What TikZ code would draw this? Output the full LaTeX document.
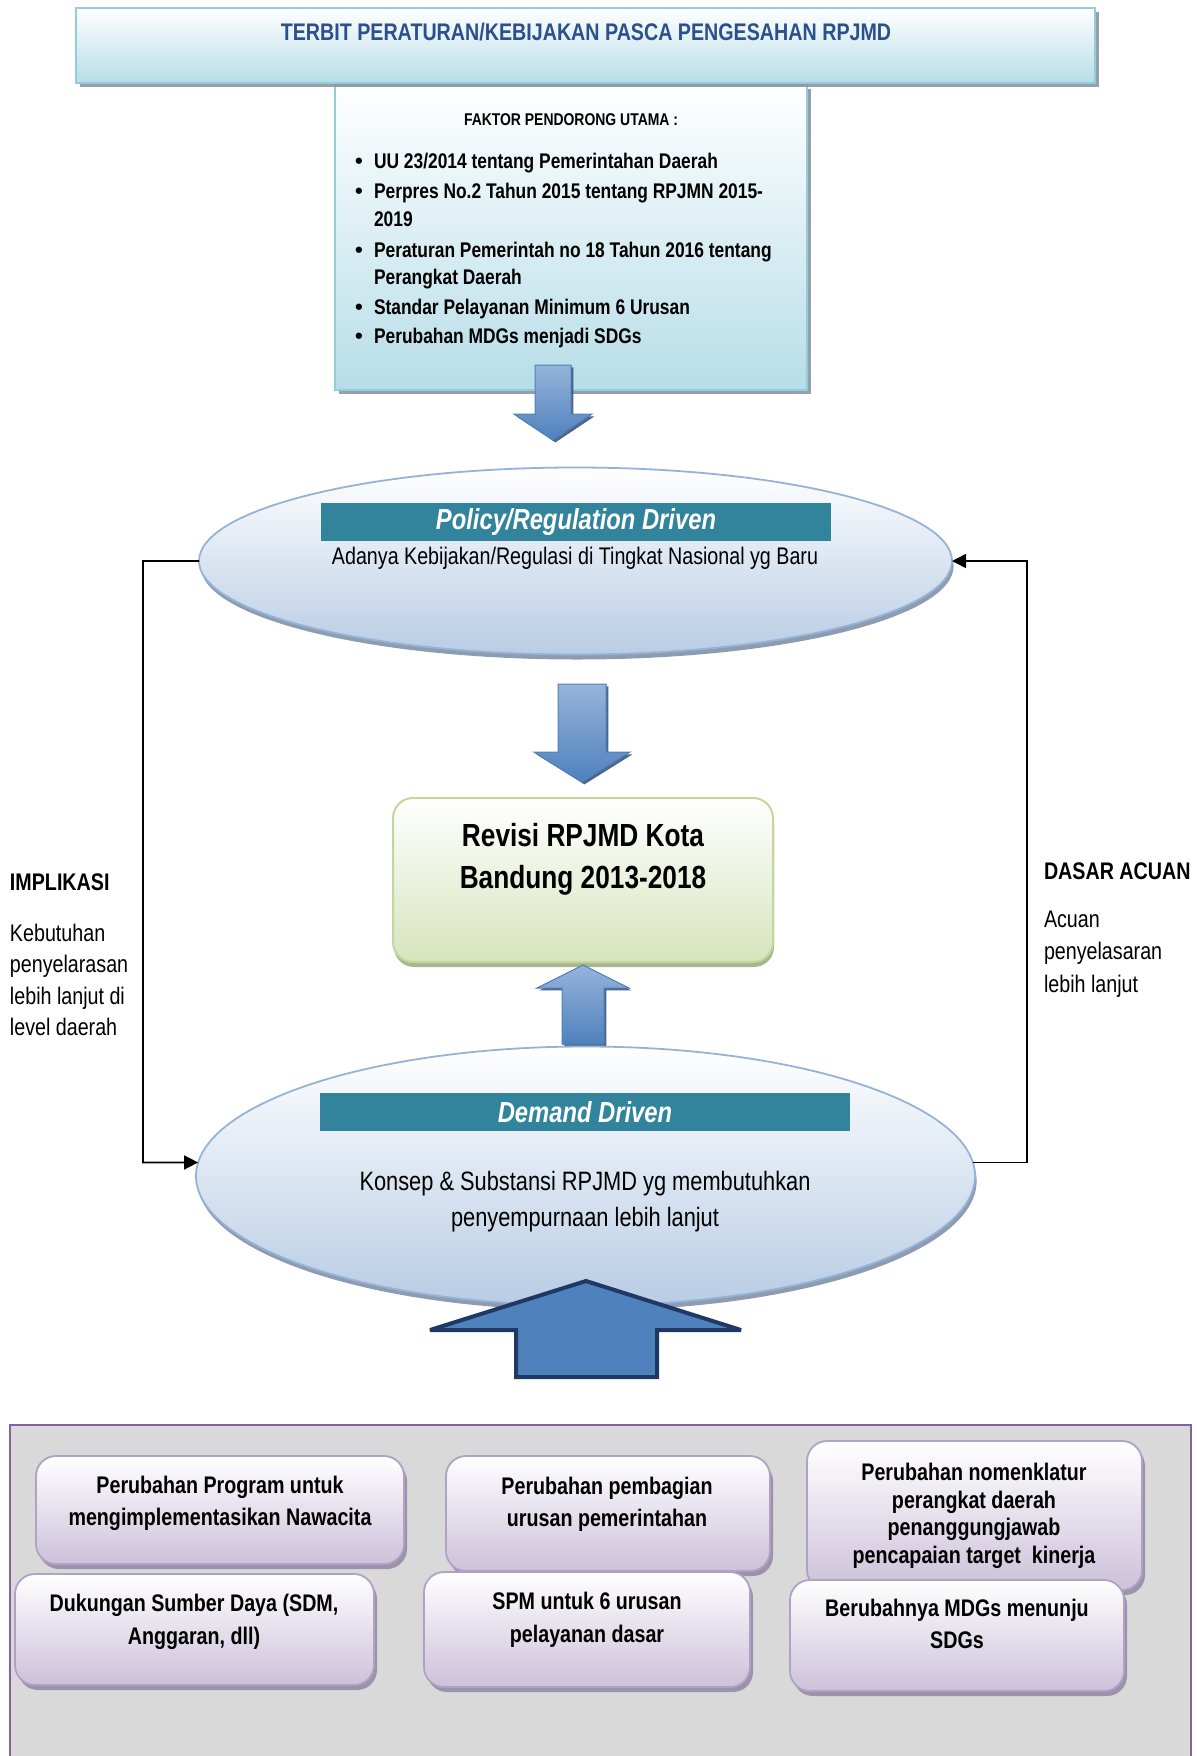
\documentclass[tikz,border=0pt]{standalone}
\usepackage{fontspec}
\setmainfont[FakeStretch=0.82]{Liberation Sans}
\newfontfamily\bulletfont{Liberation Sans}
\usetikzlibrary{shadows,shapes.geometric,arrows.meta}
\definecolor{titleblue}{RGB}{44,80,140}
\definecolor{aquaedge}{RGB}{146,205,220}
\definecolor{aquafill}{RGB}{183,221,232}
\definecolor{shadowgray}{RGB}{140,150,160}
\definecolor{elledge}{RGB}{149,179,215}
\definecolor{ellfill}{RGB}{184,204,228}
\definecolor{ellshadow}{RGB}{130,145,170}
\definecolor{bannerteal}{RGB}{49,132,155}
\definecolor{grnedge}{RGB}{195,214,155}
\definecolor{grnfill}{RGB}{215,228,189}
\definecolor{grnshadow}{RGB}{160,175,130}
\definecolor{arrlight}{RGB}{150,180,218}
\definecolor{arrmid}{RGB}{79,129,189}
\definecolor{arrdark}{RGB}{36,64,110}
\definecolor{bignavy}{RGB}{31,56,100}
\definecolor{panelgray}{RGB}{217,217,217}
\definecolor{paneledge}{RGB}{128,100,162}
\definecolor{lavfill}{RGB}{204,193,218}
\definecolor{lavedge}{RGB}{178,161,199}
\definecolor{lavshadow}{RGB}{150,140,165}
\begin{document}
\begin{tikzpicture}[x=0.5pt,y=-0.5pt,
  every node/.style={inner sep=0pt, outer sep=0pt},
  aquabox/.style={draw=aquaedge, line width=1pt, top color=white, bottom color=aquafill,
    drop shadow={shadow xshift=2pt, shadow yshift=-2pt, fill=shadowgray, opacity=0.9}},
  ell/.style={ellipse, draw=elledge, line width=0.9pt, top color=white, bottom color=ellfill,
    drop shadow={shadow xshift=0.8pt, shadow yshift=-2.5pt, fill=ellshadow, opacity=0.9}},
  banner/.style={fill=bannerteal, text=white, font=\fontsize{14.5}{17}\selectfont\bfseries\itshape},
  lavbox/.style={rounded corners=10pt, draw=lavedge, line width=0.9pt, top color=white, bottom color=lavfill,
    drop shadow={shadow xshift=1.5pt, shadow yshift=-2.5pt, fill=lavshadow, opacity=0.9}},
  boxtext/.style={align=center, font=\fontsize{12}{16}\selectfont\bfseries},
  side/.style={align=left, anchor=west, font=\fontsize{12}{15.8}\selectfont},
  conn/.style={line width=0.8pt, black, -{Triangle[length=7pt,width=7pt]}},
  blockarrow/.style={draw=arrmid, line width=0.5pt, top color=arrlight, bottom color=arrmid,
    drop shadow={shadow xshift=1.2pt, shadow yshift=-1.2pt, fill=arrdark, opacity=0.8}},
  bul/.style={anchor=base west, font=\fontsize{11}{12}\bulletfont\bfseries},
  bt/.style={anchor=base west, font=\fontsize{10.6}{12}\selectfont\bfseries},
]
\useasboundingbox (0,0) rectangle (1197,1756);

% Faktor box and title box
\node[aquabox, minimum width=236pt, minimum height=152.5pt] (faktor) at (571,237.5) {};
\node[aquabox, minimum width=509.5pt, minimum height=37.5pt] (title) at (585.5,45.5) {};
\node[anchor=base, text=titleblue, font=\fontsize{12}{14}\selectfont\bfseries] (titletext) at (586,40.6)
  {TERBIT PERATURAN/KEBIJAKAN PASCA PENGESAHAN RPJMD};

\node[anchor=base, font=\fontsize{8.5}{10}\selectfont\bfseries] (faktortitle) at (571,125) {FAKTOR PENDORONG UTAMA :};
\node[bul] (b1) at (355,168.6) {\textbullet};
\node[bt] (t1) at (374,168.6) {UU 23/2014 tentang Pemerintahan Daerah};
\node[bul] (b2) at (355,198.6) {\textbullet};
\node[bt] (t2) at (374,198.6) {Perpres No.2 Tahun 2015 tentang RPJMN 2015-};
\node[bt] (t2b) at (374,226.6) {2019};
\node[bul] (b3) at (355,257.6) {\textbullet};
\node[bt] (t3) at (374,257.6) {Peraturan Pemerintah no 18 Tahun 2016 tentang};
\node[bt] (t3b) at (374,284.6) {Perangkat Daerah};
\node[bul] (b4) at (355,314.6) {\textbullet};
\node[bt] (t4) at (374,314.6) {Standar Pelayanan Minimum 6 Urusan};
\node[bul] (b5) at (355,343.6) {\textbullet};
\node[bt] (t5) at (374,343.6) {Perubahan MDGs menjadi SDGs};

% arrow 1 (down)
\fill[blockarrow] (535,365) -- (571,365) -- (571,414) -- (592,414) -- (553,440) -- (514,414) -- (535,414) -- cycle;

% top ellipse
\node[ell, minimum width=376.5pt, minimum height=93.5pt] (pe) at (575.5,561) {};
\node[banner, minimum width=255pt, minimum height=19pt] (pb) at (576,522) {Policy/Regulation Driven};
\node[anchor=base, font=\fontsize{12}{14}\selectfont] (ps) at (575,564.6)
  {Adanya Kebijakan/Regulasi di Tingkat Nasional yg Baru};

% arrow 2 (down)
\fill[blockarrow] (558,684) -- (606,684) -- (606,752) -- (630,752) -- (582,782) -- (534,752) -- (558,752) -- cycle;

% center box
\node[draw=grnedge, line width=1pt, rounded corners=10pt, top color=white, bottom color=grnfill,
  drop shadow={shadow xshift=0.5pt, shadow yshift=-2.5pt, fill=grnshadow, opacity=0.9},
  minimum width=190pt, minimum height=82pt] (rv) at (583,880) {};
\node[align=center, font=\fontsize{16}{21}\selectfont\bfseries] (rvt) at (583,859)
  {Revisi RPJMD Kota\\Bandung 2013-2018};

% arrow 3 (up)
\fill[blockarrow] (562,1044) -- (604,1044) -- (604,988) -- (629,988) -- (583,965) -- (537,988) -- (562,988) -- cycle;

% bottom ellipse
\node[ell, minimum width=389.5pt, minimum height=129.5pt] (de) at (585.5,1176) {};
\node[banner, minimum width=265pt, minimum height=19pt] (db) at (585,1112) {Demand Driven};
\node[align=center, font=\fontsize{13.3}{18}\selectfont] (ds) at (585,1202)
  {Konsep \& Substansi RPJMD yg membutuhkan\\penyempurnaan lebih lanjut};

% big arrow
\filldraw[fill=arrmid, draw=bignavy, line width=2pt, line join=miter, miter limit=4]
  (586,1281) -- (741,1330) -- (657,1330) -- (657,1377) -- (516,1377) -- (516,1330) -- (430,1330) -- cycle;

% connectors
\coordinate (lx) at (143,1162.5);
\coordinate (rx) at (1027,561);
\draw[conn] (pe.west) -| (lx) -- (de.178);
\draw[conn] (de.2) -| (rx) -- (pe.east);

% side texts
\node[anchor=west, font=\fontsize{12}{14}\selectfont\bfseries] (impl) at (10,882) {IMPLIKASI};
\node[side] (impltext) at (10,980) {Kebutuhan\\penyelarasan\\lebih lanjut di\\level daerah};
\node[anchor=west, font=\fontsize{12}{14}\selectfont\bfseries] (dasar) at (1044,871) {DASAR ACUAN};
\node[side, font=\fontsize{12}{16.25}\selectfont] (dasartext) at (1044,954) {Acuan\\penyelasaran\\lebih lanjut};

% bottom panel
\node[draw=paneledge, line width=1pt, fill=panelgray, minimum width=590.5pt, minimum height=168pt] (panel) at (600.5,1593) {};

\node[lavbox, minimum width=184pt, minimum height=54pt] (k1) at (220,1510) {};
\node[boxtext] (k1t) at (220,1503.4) {Perubahan Program untuk\\mengimplementasikan Nawacita};
\node[lavbox, minimum width=162pt, minimum height=57.5pt] (k2) at (608,1513.5) {};
\node[boxtext] (k2t) at (607,1504) {Perubahan pembagian\\urusan pemerintahan};
\node[lavbox, minimum width=167.5pt, minimum height=74.5pt] (k3) at (974.5,1515.5) {};
\node[boxtext, font=\fontsize{12}{13.8}\selectfont\bfseries] (k3t) at (974,1516)
  {Perubahan nomenklatur\\perangkat daerah\\penanggungjawab\\pencapaian target\ \ kinerja};
\node[lavbox, minimum width=179.5pt, minimum height=55.5pt] (k4) at (194.5,1629.5) {};
\node[boxtext, font=\fontsize{12}{16.5}\selectfont\bfseries] (k4t) at (194,1622) {Dukungan Sumber Daya (SDM,\\Anggaran, dll)};
\node[lavbox, minimum width=163pt, minimum height=57.5pt] (k5) at (587,1629.5) {};
\node[boxtext, font=\fontsize{12}{16.5}\selectfont\bfseries] (k5t) at (587,1620) {SPM untuk 6 urusan\\pelayanan dasar};
\node[lavbox, minimum width=167pt, minimum height=55.5pt] (k6) at (957,1635.5) {};
\node[boxtext] (k6t) at (957,1624) {Berubahnya MDGs menunju\\SDGs};
\end{tikzpicture}
\end{document}
